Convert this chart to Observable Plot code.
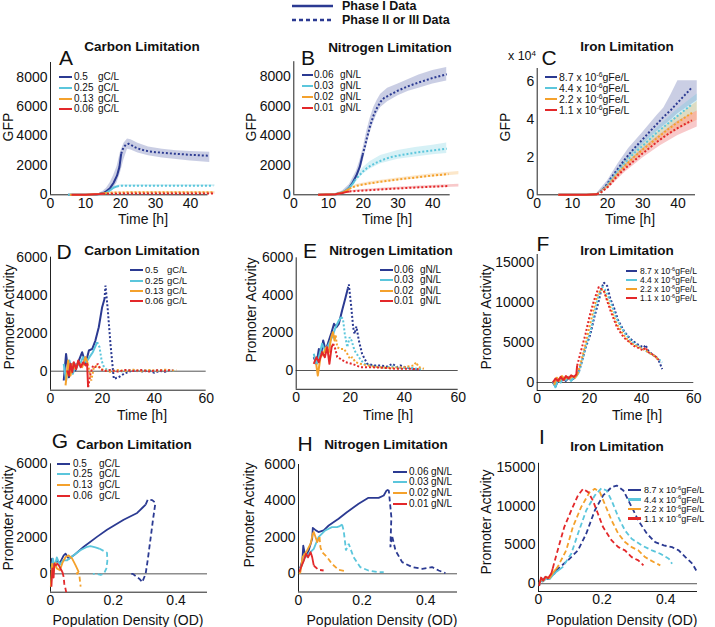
<!DOCTYPE html>
<html><head><meta charset="utf-8">
<script src="https://cdn.jsdelivr.net/npm/d3@7"></script>
<script src="https://cdn.jsdelivr.net/npm/@observablehq/plot@0.6"></script>
<style>
body{margin:0;background:#fff;}
#fig{position:relative;width:715px;height:627px;overflow:hidden;font-family:"Liberation Sans",Arial,Helvetica,sans-serif;color:#111;background:#fff;}
#fig svg.plotsvg{position:absolute;}
.t{position:absolute;white-space:nowrap;line-height:1;}
.t sup{font-size:0.65em;vertical-align:baseline;position:relative;top:-0.55em;line-height:0;}
</style></head><body><div id="fig"></div>
<script>
// ---------- categories / labels ----------
const carbonLevels = ["0.5", "0.25", "0.13", "0.06"];
const nitrogenLevels = ["0.06", "0.03", "0.02", "0.01"];
const ironLevels = ["8.7", "4.4", "2.2", "1.1"];
const phaseLabels = ["Phase I Data", "Phase II or III Data"];
const timeTicksTop = [0, 10, 20, 30, 40];
const gfpTicks = [0, 2000, 4000, 6000, 8000];
const ironGfpTicks = [0, 2, 4, 6];
const timeTicksMid = [0, 20, 40, 60];
const paTicks = [0, 2000, 4000, 6000];
const paIronTicks = [0, 5000, 10000, 15000];
const odTicks = [0, 0.2, 0.4];

// ---------- Panel A: GFP vs time, carbon ----------
const aBlueS = [[5,0],[10,0],[13,20],[15,100],[16,250],[17,450],[18,800],[19,1300],[19.7,1900],[20.2,2800]];
const aBlueD = [[20.2,2800],[20.8,3200],[21.5,3400],[22.3,3470],[23,3400],[24,3250],[25,3150],[27,3000],[30,2900],[35,2800],[40,2720],[45,2660]];
const aCyanS = [[5,0],[10,0],[14,30],[16,150],[17,300],[18,480],[19,570]];
const aCyanD = [[19,570],[20,610],[22,620],[30,620],[40,620],[46.5,615]];
const aOrangeS = [[5.5,0],[10,10],[14,60],[16,130]];
const aOrangeD = [[16,130],[18,160],[25,170],[35,175],[46.5,175]];
const aRedS = [[6,0],[10,10],[14,50],[15,70]];
const aRedD = [[15,70],[20,80],[30,85],[46.5,90]];
const aBlueBand = [[14,-50,100],[15,0,250],[16,50,450],[17,200,800],[18,450,1300],[19,800,1900],[20,1500,2900],[21,2400,3500],[22,3100,3800],[23,3050,3750],[25,2850,3500],[28,2650,3250],[32,2500,3100],[36,2400,3000],[40,2300,2950],[45.5,2200,2900]];
const aCyanBand = [[14,-20,80],[16,80,230],[18,400,580],[20,540,680],[25,560,690],[35,560,690],[47,560,680]];
const aOrangeBand = [[14,20,100],[16,90,180],[20,120,210],[30,130,220],[47,130,220]];
const aRedBand = [[14,20,80],[16,40,100],[20,50,110],[47,50,120]];

// ---------- Panel B: GFP vs time, nitrogen ----------
const bBlueS = [[7,0],[10,10],[12,40],[14,150],[15,280],[16,500],[17,850],[18,1300],[19,1900],[19.8,2700]];
const bBlueD = [[19.8,2700],[20.5,3300],[21,3800],[22,4700],[23,5400],[24,5900],[25,6300],[26,6550],[28,6800],[30,7050],[33,7350],[36,7600],[40,7900],[44,8150]];
const bCyanS = [[7,0],[12,40],[14,150],[15,280],[16,480],[17,750],[17.5,950]];
const bCyanD = [[17.5,950],[18,1100],[19,1350],[20,1600],[21,1800],[22,1950],[24,2200],[26,2400],[28,2550],[30,2650],[35,2850],[40,3000],[44,3120]];
const bOrangeS = [[7,0],[12,40],[14,150],[15,260],[16,400]];
const bOrangeD = [[16,400],[17,520],[18,600],[20,700],[22,780],[25,880],[30,1030],[35,1170],[40,1300],[44.5,1400]];
const bRedS = [[7,0],[12,30],[14,120],[15,180],[16,230]];
const bRedD = [[16,230],[18,260],[20,290],[25,360],[30,430],[35,490],[40,550],[44.5,590]];
const bBlueBand = [[12,0,80],[14,80,250],[16,350,700],[18,1050,1600],[19,1600,2300],[20,2300,3200],[21,3300,4300],[22,4200,5200],[23,4900,5900],[24,5500,6400],[25,5900,6800],[27,6300,7200],[30,6700,7500],[33,7000,7800],[36,7200,8100],[40,7500,8400],[44,7700,8600]];
const bCyanBand = [[14,100,200],[16,400,580],[18,900,1300],[20,1400,1850],[22,1750,2250],[25,2100,2650],[30,2400,3000],[35,2550,3200],[40,2700,3350],[44,2800,3500]];
const bOrangeBand = [[15,200,320],[18,520,700],[22,680,880],[30,950,1130],[40,1200,1420],[47.5,1360,1580]];
const bRedBand = [[15,140,220],[18,210,320],[25,290,440],[35,420,580],[47.5,520,720]];

// ---------- Panel C: GFP (x10^4) vs time, iron ----------
const cBlueS = [[6,0],[10,0],[14,0],[17,0.03]];
const cBlueD = [[17,0.03],[18,0.15],[19,0.35],[20,0.6],[21,0.9],[23,1.4],[25,1.9],[27.5,2.45],[30,2.95],[32,3.35],[34,3.75],[36,4.15],[38,4.5],[40,4.9],[42,5.3],[44,5.7]];
const cCyanS = [[6,0],[10,0],[14,0],[17,0.03]];
const cCyanD = [[17,0.03],[18,0.13],[20,0.5],[21,0.8],[23,1.25],[25,1.7],[27.5,2.2],[30,2.6],[34,3.3],[37,3.75],[40,4.2],[44,4.8]];
const cOrangeS = [[6,0],[10,0],[14,0],[17,0.03]];
const cOrangeD = [[17,0.03],[18,0.12],[20,0.45],[21,0.7],[23,1.15],[25,1.55],[27.5,2.0],[30,2.4],[34,3.0],[37,3.45],[40,3.85],[44,4.35]];
const cRedS = [[6,0],[10,0],[14,0],[17,0.03]];
const cRedD = [[17,0.03],[18,0.1],[20,0.4],[21,0.6],[23,1.05],[25,1.4],[27.5,1.8],[30,2.2],[34,2.8],[37,3.2],[40,3.55],[44,3.95]];
const cBlueBand = [[17,0,0.08],[20,0.45,0.75],[23,1.2,1.65],[26,1.9,2.45],[30,2.65,3.3],[34,3.35,4.2],[36,3.65,4.6],[38,3.95,5.3],[40,4.3,6.05],[45.5,5.0,6.05]];
const cCyanBand = [[17,0,0.06],[20,0.4,0.6],[25,1.5,1.9],[30,2.35,2.85],[35,3.15,3.7],[40,3.85,4.55],[45.5,4.45,5.35]];
const cOrangeBand = [[17,0,0.06],[20,0.35,0.55],[25,1.35,1.75],[30,2.15,2.65],[35,2.85,3.45],[40,3.45,4.2],[45.5,3.95,4.95]];
const cRedBand = [[17,0,0.05],[20,0.3,0.5],[25,1.2,1.6],[30,1.95,2.45],[35,2.6,3.2],[40,3.15,3.9],[45.5,3.6,4.45]];

// ---------- Panel D: promoter activity vs time, carbon ----------
const dBlueS = [[5.1,-490],[6,910],[7.1,-320],[8.4,390],[9.6,35],[10.9,560],[12.2,1000],[13.5,390],[14.8,1090],[16.1,1175],[17.3,1610],[18.6,2315],[19.9,3370],[20.8,3800]];
const dBlueD = [[20.8,3800],[21.2,4500],[22.1,3190],[23.1,1440],[24.4,-400],[26.3,-315],[28.3,-140],[30.8,0],[33,30],[36,-20],[38,40],[40,-80],[42,20],[44,-30],[46,40],[48,0]];
const dCyanS = [[5.1,390],[6,-490],[7.3,560],[8.6,-140],[9.9,390],[11.2,300],[12.5,740],[13.8,470],[15,740],[16.3,1000],[18,1530]];
const dCyanD = [[18,1530],[18.9,1260],[19.7,560],[20.6,210],[21.8,70],[24,40],[27,-20],[30,60],[33,0],[36,50],[39,-10],[42,60],[45,20],[48,30]];
const dOrangeS = [[5.8,-750],[6.8,560],[7.7,-230],[8.6,390],[9.6,120],[10.9,470],[12.2,210],[13.5,740],[14.4,390]];
const dOrangeD = [[14.4,390],[15.7,-490],[16.7,210],[18,300],[19.3,120],[21,50],[23,-30],[26,60],[29,10],[32,80],[35,0],[38,70],[41,20],[44,80],[47,30],[48.5,60]];
const dRedS = [[6.4,35],[7.1,-230],[7.7,390],[8.4,-50],[9,470],[9.9,120],[10.7,560],[11.6,210],[12.6,470],[13.5,300],[14.1,390],[14.5,-840]];
const dRedD = [[14.5,-840],[15.4,-140],[16.4,300],[17.3,210],[18.2,390],[19.3,120],[20.6,0],[23,60],[26,-20],[29,70],[32,10],[35,60],[38,-10],[41,50],[44,20],[47,60]];

// ---------- Panel E: promoter activity vs time, nitrogen ----------
const eBlueS = [[6.5,710],[7.5,355],[8.4,1150],[9.3,890],[10,1600],[10.9,1065],[12.1,1600],[13.1,2040],[14,2485],[14.9,2310],[15.8,2485],[17,3200],[18.3,3900],[19.1,4350]];
const eBlueD = [[19.1,4350],[19.5,4580],[20.4,3370],[21.1,2300],[21.6,1950],[22.3,2340],[23.2,1600],[24.4,890],[26.3,355],[28.8,270],[31.2,270],[33.7,210],[35.6,355],[37.4,180],[38.6,270],[41.1,140],[43.6,90],[46,35]];
const eCyanS = [[6.5,890],[7.5,355],[8.4,710],[9.6,1420],[10.9,980],[12.1,1420],[13.3,1775],[14.6,2310],[15.8,2660],[16.7,2840]];
const eCyanD = [[16.7,2840],[17.3,2750],[18,1950],[18.9,1240],[19.8,1775],[20.5,1600],[21.6,1065],[23.2,710],[25.1,355],[27.5,270],[30,200],[33,150],[36,220],[39,120],[42,160],[44.8,90],[46.7,60]];
const eOrangeS = [[7.4,355],[8,-270],[9,710],[10,890],[11.1,1240],[12.1,980],[13,1775],[13.6,2040],[14.2,1600],[14.6,1860]];
const eOrangeD = [[14.6,1860],[15.2,1240],[16.4,1150],[17.7,1150],[18.9,890],[19.9,620],[20.7,710],[22,440],[23.8,355],[26.3,270],[30,180],[34.9,140],[39.9,180],[43.6,270],[44.4,440],[45.4,180],[47.3,90]];
const eRedS = [[6.5,355],[7.5,710],[8.4,440],[9.6,980],[10.6,710],[11.5,1240],[12.3,355],[13.1,1240],[13.7,1420]];
const eRedD = [[13.7,1420],[14.3,1240],[15.2,710],[16.4,620],[18.3,440],[20.7,355],[23.8,180],[27.5,180],[32.5,140],[37.4,90],[42.3,90],[45.4,70]];

// ---------- Panel F: promoter activity vs time, iron ----------
const fBlueS = [[6,0],[7,-500],[8,300],[9,100],[10,500],[11,200],[12,600],[13,300],[14,500],[15,900],[16,1400]];
const fBlueD = [[16,1400],[17,2500],[18.5,4300],[20.4,6040],[22,8300],[23.6,10200],[24.7,11800],[25.5,12500],[26.8,12080],[28,10500],[29.4,9375],[31,7800],[33.2,6460],[35.5,5500],[38.3,4790],[40,4500],[40.9,4375],[41.5,4700],[42.5,4000],[44,3540],[45.5,3200],[46.5,2800],[47.9,1670]];
const fCyanS = [[6,200],[7,-600],[8,400],[9,0],[10,600],[11,300],[12,700],[13,200],[14,600],[15,800],[16,1300]];
const fCyanD = [[16,1300],[17,2400],[18.5,4400],[20.4,6400],[22,8800],[23.5,10800],[24.9,11960],[26,11600],[28,10200],[30,8300],[32,7000],[34,6000],[36,5200],[38,4700],[40,4300],[42,3900],[44,3500],[46,3100],[47.9,2500]];
const fOrangeS = [[6.5,-300],[7.5,600],[8.5,200],[9.5,800],[10.5,400],[11.5,700],[12.5,500],[13.5,800],[14.5,600],[15.5,1100]];
const fOrangeD = [[15.5,1100],[17,2800],[18.5,4800],[20,6900],[21.5,9000],[23,10800],[24.5,11670],[25.5,11500],[27,10300],[28.5,9000],[30.5,7300],[33,6000],[35,5200],[37,4700],[39,4400],[41,4100],[43,3700],[45,3300],[46.6,2790]];
const fRedS = [[6,0],[7,500],[8,200],[9,700],[10,300],[11,800],[12,500],[13,900],[14,700],[15,1000],[15.3,2100]];
const fRedD = [[15.3,2100],[16.5,3600],[18.5,6040],[20,8200],[21.7,10200],[23.6,11960],[25.5,11460],[28.1,8960],[30.6,6875],[33.2,5625],[37,4580],[39,4300],[40.5,4000],[41.5,4400],[42.5,3800],[44,3540],[45.5,3200],[46.6,2790]];

// ---------- Panel G: promoter activity vs OD, carbon ----------
const gBlueS = [[0.003,500],[0.005,830],[0.008,200],[0.012,550],[0.02,700],[0.03,600],[0.042,1010],[0.048,1100],[0.058,830],[0.074,1010],[0.106,1475],[0.149,2030],[0.18,2400],[0.233,2950],[0.276,3320],[0.292,3590],[0.303,3780]];
const gBlueD = [[0.303,3780],[0.31,4050],[0.324,4020],[0.334,3870],[0.326,2900],[0.318,1840],[0.31,800],[0.303,0],[0.292,-460],[0.285,-300],[0.276,-180],[0.262,0],[0.25,0]];
const gCyanS = [[0.002,200],[0.008,830],[0.013,370],[0.02,900],[0.03,500],[0.04,750],[0.053,740],[0.074,1010],[0.095,1290],[0.117,1475],[0.127,1510],[0.143,1440],[0.155,1380]];
const gCyanD = [[0.155,1380],[0.18,1150],[0.181,700],[0.178,300],[0.17,0],[0.16,-50],[0.147,0],[0.135,0]];
const gOrangeS = [[0.001,-700],[0.005,550],[0.01,100],[0.015,600],[0.02,300],[0.03,200],[0.038,600],[0.048,920],[0.058,1010],[0.069,830],[0.08,460],[0.09,90]];
const gOrangeD = [[0.09,90],[0.082,20],[0.088,0],[0.092,-100],[0.094,-400],[0.096,-700]];
const gRedS = [[0.003,-700],[0.006,300],[0.01,-200],[0.012,550],[0.0165,460],[0.022,550],[0.027,450],[0.032,280],[0.038,100]];
const gRedD = [[0.038,100],[0.042,-180],[0.044,-550],[0.048,-830],[0.05,-1000]];

// ---------- Panel H: promoter activity vs OD, nitrogen ----------
const hBlueS = [[0.005,300],[0.012,730],[0.015,1550],[0.022,915],[0.032,1280],[0.043,1920],[0.045,2520],[0.053,2410],[0.063,2290],[0.079,2380],[0.095,2650],[0.126,3020],[0.152,3380],[0.189,3840],[0.22,4170],[0.252,4170],[0.268,4300],[0.278,4610]];
const hBlueD = [[0.278,4610],[0.284,4570],[0.292,3110],[0.289,1460],[0.294,2100],[0.305,1280],[0.326,640],[0.357,370],[0.389,275],[0.42,370],[0.441,180],[0.462,40]];
const hCyanS = [[0.005,200],[0.012,550],[0.02,900],[0.032,1100],[0.048,1370],[0.063,2010],[0.084,2380],[0.105,2560],[0.121,2560],[0.128,2600],[0.137,2700]];
const hCyanD = [[0.137,2700],[0.142,2380],[0.147,1650],[0.149,1280],[0.158,1650],[0.173,915],[0.194,370],[0.22,180],[0.252,90],[0.268,90]];
const hOrangeS = [[0.002,0],[0.006,90],[0.013,915],[0.027,1280],[0.038,1650],[0.045,2200],[0.048,2290],[0.059,1740],[0.066,2010]];
const hOrangeD = [[0.066,2010],[0.069,1460],[0.074,1190],[0.09,915],[0.105,550],[0.126,220],[0.147,150]];
const hRedS = [[0.003,100],[0.006,275],[0.017,730],[0.024,1100],[0.03,900],[0.038,1190],[0.043,915],[0.048,460]];
const hRedD = [[0.048,460],[0.053,370],[0.063,220],[0.079,180]];

// ---------- Panel I: promoter activity vs OD, iron ----------
const iBlueS = [[0.003,0],[0.008,600],[0.012,300],[0.02,800],[0.03,600],[0.04,1000],[0.05,1300],[0.055,1710]];
const iBlueD = [[0.055,1710],[0.092,3000],[0.124,4290],[0.15,6430],[0.177,9430],[0.203,11360],[0.23,12430],[0.246,12640],[0.267,12000],[0.288,10290],[0.314,8140],[0.341,6430],[0.367,5360],[0.394,4930],[0.42,4710],[0.441,4290],[0.462,3430],[0.484,2570],[0.496,1710]];
const iCyanS = [[0.003,-200],[0.008,500],[0.015,300],[0.025,700],[0.035,600],[0.045,1100],[0.055,1500],[0.065,1800]];
const iCyanD = [[0.065,1800],[0.076,2140],[0.103,3860],[0.124,6430],[0.15,9430],[0.177,11360],[0.198,12300],[0.214,12000],[0.23,10710],[0.251,8570],[0.272,6860],[0.293,5790],[0.325,4930],[0.357,4290],[0.383,3860],[0.41,3210],[0.42,2570]];
const iOrangeS = [[0.002,0],[0.01,700],[0.015,400],[0.025,900],[0.035,700],[0.045,1400],[0.055,1900]];
const iOrangeD = [[0.055,1900],[0.06,2140],[0.087,4290],[0.108,7290],[0.134,9860],[0.161,11790],[0.177,12210],[0.193,11790],[0.208,10290],[0.23,8140],[0.251,6430],[0.272,5360],[0.293,4710],[0.314,4290],[0.335,3430],[0.362,2790],[0.383,2360]];
const iRedS = [[0.002,-300],[0.008,800],[0.015,400],[0.022,900],[0.03,700],[0.04,1300],[0.045,2000]];
const iRedD = [[0.045,2000],[0.05,2790],[0.066,5140],[0.081,7290],[0.103,9430],[0.124,11360],[0.14,12210],[0.156,11790],[0.171,10710],[0.187,9000],[0.203,7290],[0.23,5570],[0.251,4710],[0.272,4290],[0.293,3430],[0.314,3000],[0.33,2360]];

// ---------- drawing ----------
const BLUE = "#2b3a92", CYAN = "#5bc6dc", ORANGE = "#f4a12c", RED = "#e3282a";
const COLORS = [BLUE, CYAN, ORANGE, RED];
const FONT = '"Liberation Sans", Arial, Helvetica, sans-serif';
const fig = document.getElementById("fig");
const fmt = d => String(d);

function panel(cfg) {
  const [fx0, fx1, fy0, fy1] = cfg.frame;
  const [cl, ct, cw, ch] = cfg.cell;
  const marks = [];
  (cfg.bands || []).forEach((b, i) => {
    marks.push(Plot.areaY(b, {x: d => d[0], y1: d => d[1], y2: d => d[2], fill: COLORS[i], fillOpacity: 0.25}));
  });
  if (cfg.zero) marks.push(Plot.ruleY([0], {stroke: "#555", strokeWidth: 1}));
  marks.push(Plot.ruleY([cfg.y[0]], {stroke: "#222", strokeWidth: 1}));
  marks.push(Plot.ruleX([cfg.x[0]], {stroke: "#222", strokeWidth: 1}));
  cfg.series.forEach((s, i) => {
    marks.push(Plot.line(s[0], {x: d => d[0], y: d => d[1], stroke: COLORS[i], strokeWidth: cfg.sw, strokeLinecap: "butt"}));
    marks.push(Plot.line(s[1], {x: d => d[0], y: d => d[1], stroke: COLORS[i], strokeWidth: cfg.sw, strokeDasharray: cfg.dash, strokeLinecap: "butt", strokeLinejoin: "miter"}));
  });
  marks.push(Plot.axisX({ticks: cfg.xTicks, tickSize: 0, tickPadding: 3, tickFormat: fmt, label: null}));
  marks.push(Plot.axisY({ticks: cfg.yTicks, tickSize: 0, tickPadding: 3, tickFormat: fmt, label: null}));
  const svg = Plot.plot({
    width: cw, height: ch,
    marginLeft: fx0 - cl, marginRight: cl + cw - fx1,
    marginTop: fy0 - ct, marginBottom: ct + ch - fy1,
    x: {domain: cfg.x, label: null},
    y: {domain: cfg.y, label: null},
    style: {fontFamily: FONT, fontSize: "14px", background: "transparent", color: "#111", overflow: "visible"},
    marks
  });
  svg.classList.add("plotsvg");
  svg.style.left = cl + "px";
  svg.style.top = ct + "px";
  svg.style.maxWidth = "none";
  fig.appendChild(svg);
}

const COLS = [[0, 238], [238, 238], [476, 239]];
const ROWS = [[35, 195], [235, 195], [435, 192]];
const cell = (c, r) => [COLS[c][0], ROWS[r][0], COLS[c][1], ROWS[r][1]];
const DOT = "2,2", DASH = "5,3";

panel({cell: cell(0,0), frame: [50, 207.5, 62, 194.3], x: [0,45], y: [0,9000], xTicks: timeTicksTop, yTicks: gfpTicks, sw: 2, dash: DOT,
  bands: [aBlueBand, aCyanBand, aOrangeBand, aRedBand],
  series: [[aBlueS,aBlueD],[aCyanS,aCyanD],[aOrangeS,aOrangeD],[aRedS,aRedD]]});
panel({cell: cell(1,0), frame: [293.3, 449.7, 61.2, 194.3], x: [0,45], y: [0,9000], xTicks: timeTicksTop, yTicks: gfpTicks, sw: 2, dash: DOT,
  bands: [bBlueBand, bCyanBand, bOrangeBand, bRedBand],
  series: [[bBlueS,bBlueD],[bCyanS,bCyanD],[bOrangeS,bOrangeD],[bRedS,bRedD]]});
panel({cell: cell(2,0), frame: [536.7, 695, 68, 194.3], x: [0,45], y: [0,6.7], xTicks: timeTicksTop, yTicks: ironGfpTicks, sw: 2, dash: DOT,
  bands: [cBlueBand, cCyanBand, cOrangeBand, cRedBand],
  series: [[cBlueS,cBlueD],[cCyanS,cCyanD],[cOrangeS,cOrangeD],[cRedS,cRedD]]});
panel({cell: cell(0,1), frame: [50, 205.7, 256.7, 389.7], x: [0,60], y: [-1000,6000], xTicks: timeTicksMid, yTicks: paTicks, sw: 2, dash: DOT, zero: true,
  series: [[dBlueS,dBlueD],[dCyanS,dCyanD],[dOrangeS,dOrangeD],[dRedS,dRedD]]});
panel({cell: cell(1,1), frame: [295.7, 457.7, 257.3, 388.8], x: [0,60], y: [-1000,6000], xTicks: timeTicksMid, yTicks: paTicks, sw: 2, dash: DOT, zero: true,
  series: [[eBlueS,eBlueD],[eCyanS,eCyanD],[eOrangeS,eOrangeD],[eRedS,eRedD]]});
panel({cell: cell(2,1), frame: [536.7, 693.3, 254, 390], x: [0,60], y: [-1000,16000], xTicks: timeTicksMid, yTicks: paIronTicks, sw: 2, dash: DOT, zero: true,
  series: [[fBlueS,fBlueD],[fCyanS,fCyanD],[fOrangeS,fOrangeD],[fRedS,fRedD]]});
panel({cell: cell(0,2), frame: [50, 207, 463.3, 591.7], x: [0,0.5], y: [-1000,6000], xTicks: odTicks, yTicks: paTicks, sw: 1.8, dash: DASH, zero: true,
  series: [[gBlueS,gBlueD],[gCyanS,gCyanD],[gOrangeS,gOrangeD],[gRedS,gRedD]]});
panel({cell: cell(1,2), frame: [298, 457, 464, 591.5], x: [0,0.5], y: [-1000,6000], xTicks: odTicks, yTicks: paTicks, sw: 1.8, dash: DASH, zero: true,
  series: [[hBlueS,hBlueD],[hCyanS,hCyanD],[hOrangeS,hOrangeD],[hRedS,hRedD]]});
panel({cell: cell(2,2), frame: [538, 697, 462.8, 591], x: [0,0.5], y: [-1000,15500], xTicks: odTicks, yTicks: paIronTicks, sw: 1.8, dash: DASH, zero: true,
  series: [[iBlueS,iBlueD],[iCyanS,iCyanD],[iOrangeS,iOrangeD],[iRedS,iRedD]]});

// ---------- text overlays ----------
function txt(html, x, y, o = {}) {
  const d = document.createElement("div");
  d.className = "t";
  d.innerHTML = html;
  d.style.left = x + "px";
  d.style.top = y + "px";
  d.style.fontSize = (o.size || 14) + "px";
  if (o.bold) d.style.fontWeight = "bold";
  const ax = o.anchor === "start" ? "0" : o.anchor === "end" ? "-100%" : "-50%";
  d.style.transform = `translate(${ax},-50%)` + (o.rotate ? " rotate(-90deg)" : "");
  fig.appendChild(d);
}
function swatch(x0, x1, y, color, w = 2.5) {
  const d = document.createElement("div");
  d.style.cssText = `position:absolute;left:${x0}px;top:${y - w / 2}px;width:${x1 - x0}px;height:${w}px;background:${color}`;
  fig.appendChild(d);
}
function legend(levels, unit, lx0, lx1, numX, unitX, rows, size) {
  levels.forEach((lv, i) => {
    swatch(lx0, lx1, rows[i], COLORS[i]);
    if (unitX == null) {
      txt(`${lv} x 10<sup>-6</sup>${unit}`, numX, rows[i], {size, anchor: "start"});
    } else {
      txt(lv, numX, rows[i], {size, anchor: "start"});
      txt(unit, unitX, rows[i], {size, anchor: "start"});
    }
  });
}

// top legend (phase)
(function () {
  const ns = "http://www.w3.org/2000/svg";
  const s = document.createElementNS(ns, "svg");
  s.setAttribute("width", 50); s.setAttribute("height", 26);
  s.style.cssText = "position:absolute;left:288px;top:0px";
  [[6, null], [20, "4,3"]].forEach(([y, da]) => {
    const l = document.createElementNS(ns, "line");
    l.setAttribute("x1", 4); l.setAttribute("x2", 45); l.setAttribute("y1", y); l.setAttribute("y2", y);
    l.setAttribute("stroke", BLUE); l.setAttribute("stroke-width", 2.5);
    if (da) l.setAttribute("stroke-dasharray", da);
    s.appendChild(l);
  });
  fig.appendChild(s);
  txt(phaseLabels[0], 342, 6, {size: 12.5, bold: true, anchor: "start"});
  txt(phaseLabels[1], 342, 20, {size: 12.5, bold: true, anchor: "start"});
})();

// titles
[["Carbon Limitation",142,47],["Nitrogen Limitation",390,48],["Iron Limitation",627,47],
 ["Carbon Limitation",142,251],["Nitrogen Limitation",391,251],["Iron Limitation",627,251],
 ["Carbon Limitation",134,445],["Nitrogen Limitation",386,445],["Iron Limitation",617,447]]
 .forEach(([s,x,y]) => txt(s, x, y, {size: 13.5, bold: true}));
// panel letters
[["A",66,57],["B",308,57],["C",549,57],["D",64,251],["E",310,250],["F",543,243],["G",60,440],["H",305,443],["I",542,436]]
 .forEach(([s,x,y]) => txt(s, x, y, {size: 21}));
// axis labels
[["GFP",8,127],["GFP",251,127],["GFP",505,127],
 ["Promoter Activity",9,317],["Promoter Activity",251,310],["Promoter Activity",486,317],
 ["Promoter Activity",8,518],["Promoter Activity",249,515],["Promoter Activity",486,522]]
 .forEach(([s,x,y]) => txt(s, x, y, {size: 14, rotate: true}));
[["Time [h]",143,219],["Time [h]",387,219],["Time [h]",630,219],
 ["Time [h]",142,415],["Time [h]",388,415],["Time [h]",637,415],
 ["Population Density (OD)",128,620],["Population Density (OD)",382,620],["Population Density (OD)",622,620]]
 .forEach(([s,x,y]) => txt(s, x, y, {size: 14}));
txt("x 10<sup>4</sup>", 522, 56, {size: 12.5});

// in-panel legends
legend(carbonLevels, "gC/L", 59, 72, 74, 98, [77,88,99,109], 10);
legend(nitrogenLevels, "gN/L", 302, 313, 314, 340, [75,86,97,108], 10);
legend(ironLevels, "gFe/L", 545, 557, 559, null, [77,88,99,110], 10.5);
legend(carbonLevels, "gC/L", 130, 143, 145, 167, [270,281,291,301], 9.5);
legend(nitrogenLevels, "gN/L", 380, 393, 394, 420, [270,280,291,301], 10);
legend(ironLevels, "gFe/L", 626, 637, 640, null, [271,280,289,298], 8.5);
legend(carbonLevels, "gC/L", 57, 70, 73, 99, [464,474,485,496], 10);
legend(nitrogenLevels, "gN/L", 393, 407, 409, 431, [472,482,493,504], 10);
legend(ironLevels, "gFe/L", 628, 641, 644, null, [490,499.5,509,518.5], 9);
</script></body></html>
